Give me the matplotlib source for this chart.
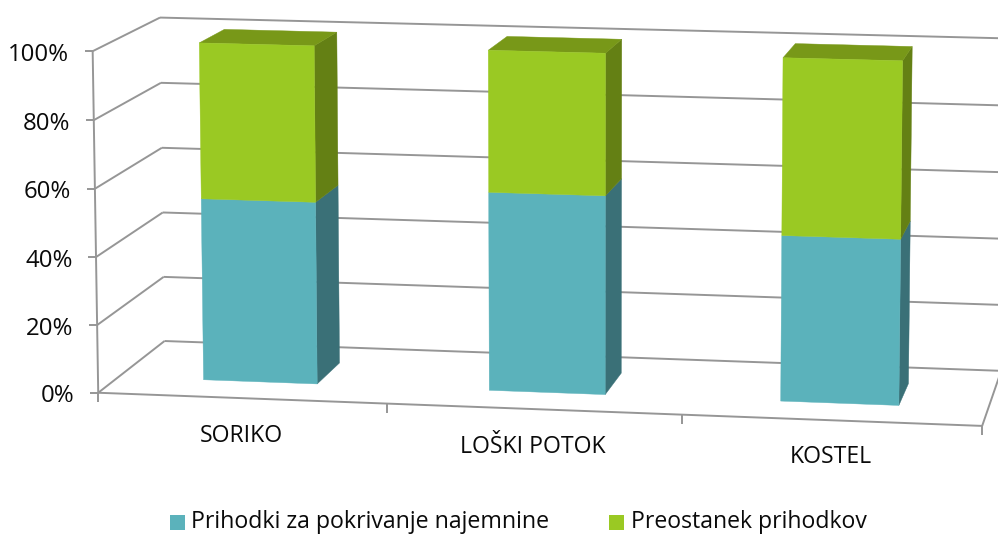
import numpy as np
import matplotlib
matplotlib.use("Agg")
import matplotlib.pyplot as plt
from matplotlib.patches import Polygon, Rectangle

# ---- data ----
categories = ["SORIKO", "LOŠKI POTOK", "KOSTEL"]
rent_share = [54, 58.5, 48.5]
rest_share = [46, 41.5, 51.5]
series_names = ["Prihodki za pokrivanje najemnine", "Preostanek prihodkov"]
y_ticks = [0, 20, 40, 60, 80, 100]

# ---- styles ----
FONT = "Open Sans"
GRID = "#969696"
TEXT = "#0A0A0A"
TEAL = ("#5BB2BB", "#3A7077", "#4A8F97")
GREEN = ("#9AC923", "#648014", "#789818")
BAR_HALF = 0.2
Z_FRONT, Z_BACK = 0.3, 0.7

# ---- camera calibration: (category pos, percent, depth) -> canvas pixel ----
calib = [
    (0, 0, 0, 99, 392), (0, 100, 0, 92, 52), (1, 0, 0, 387, 403.5),
    (2, 0, 0, 681, 415), (3, 0, 0, 981, 426), (0, 0, 1, 165, 341),
    (0, 100, 1, 160, 17), (3, 0, 1, 1002, 372.6), (3, 100, 1, 1002, 37.6),
    (.3, 100, .3, 199.3, 43.3), (.7, 100, .3, 314, 46), (.3, 0, .3, 203, 380),
    (.7, 0, .3, 317, 384), (.7, 100, .7, 336.7, 32.3), (.7, 0, .7, 339, 363),
    (1.3, 100, .3, 488.3, 50.3), (1.7, 100, .3, 605.7, 53.3), (1.3, 0, .3, 489, 390),
    (1.7, 0, .3, 605, 394), (1.7, 100, .7, 622.3, 39.3), (1.7, 0, .7, 621.7, 373.3),
    (2.3, 100, .3, 784, 57.7), (2.7, 100, .3, 904, 60.7), (2.3, 0, .3, 780.3, 401),
    (2.7, 0, .3, 899, 405), (2.7, 100, .7, 914, 46.3), (2.7, 0, .7, 909.7, 383),
]
A, b = [], []
for x, v, z, u, w in calib:
    A.append([x, v, z, 1, 0, 0, 0, 0, -u * x, -u * v, -u * z]); b.append(u)
    A.append([0, 0, 0, 0, x, v, z, 1, -w * x, -w * v, -w * z]); b.append(w)
P = np.append(np.linalg.lstsq(np.array(A, float), np.array(b, float), rcond=None)[0], 1).reshape(3, 4)


def proj(x, v, z):
    h = P @ np.array([x, v, z, 1.0])
    return h[0] / h[2], h[1] / h[2]


fig = plt.figure(figsize=(9.98, 5.34), dpi=100)
ax = fig.add_axes([0, 0, 1, 1])
ax.set_xlim(0, 998)
ax.set_ylim(534, 0)
ax.axis("off")


def seg(p, q, **kw):
    ax.plot([p[0], q[0]], [p[1], q[1]], color=GRID, lw=1.4, solid_capstyle="butt", zorder=1, **kw)


n = len(categories)
for t in y_ticks:
    seg(proj(0, t, 0), proj(0, t, 1))
    seg(proj(0, t, 1), proj(n, t, 1))
    fx, fy = proj(0, t, 0)
    seg((fx - 8, fy), (fx, fy))
    ax.text(fx - 23.5, fy + 3.5, f"{t}%", ha="right", va="center", fontsize=17.3, family=FONT, color=TEXT)
seg(proj(0, 0, 0), proj(0, 100, 0))
seg(proj(0, 0, 0), proj(n, 0, 0))
seg(proj(n, 0, 0), proj(n, 0, 1))
for i in range(n + 1):
    tx, ty = proj(i, 0, 0)
    seg((tx, ty), (tx, ty + 9))


def box(x0, x1, v0, v1, cols, top):
    front, side, lid = cols
    pts_side = [proj(x1, v0, Z_FRONT), proj(x1, v0, Z_BACK), proj(x1, v1, Z_BACK), proj(x1, v1, Z_FRONT)]
    ax.add_patch(Polygon(pts_side, fc=side, ec=side, lw=0.3, zorder=3))
    if top:
        pts_top = [proj(x0, v1, Z_FRONT), proj(x0, v1, Z_BACK), proj(x1, v1, Z_BACK), proj(x1, v1, Z_FRONT)]
        ax.add_patch(Polygon(pts_top, fc=lid, ec=lid, lw=0.3, zorder=3))
    pts_front = [proj(x0, v0, Z_FRONT), proj(x1, v0, Z_FRONT), proj(x1, v1, Z_FRONT), proj(x0, v1, Z_FRONT)]
    ax.add_patch(Polygon(pts_front, fc=front, ec=front, lw=0.3, zorder=4))


for i in range(n):
    x0, x1 = i + 0.5 - BAR_HALF, i + 0.5 + BAR_HALF
    a = rent_share[i]
    box(x0, x1, 0, a, TEAL, False)
    box(x0, x1, a, a + rest_share[i], GREEN, True)

label_pos = [(241, 435.5), (533, 447), (830.5, 457)]
for name, (lx, ly) in zip(categories, label_pos):
    ax.text(lx, ly, name, ha="center", va="center", fontsize=16.6, family=FONT, color=TEXT)

ax.add_patch(Rectangle((170, 515), 15, 15, fc=TEAL[0], ec="none"))
ax.add_patch(Rectangle((609, 515), 15, 15, fc=GREEN[0], ec="none"))
ax.text(191, 527.5, series_names[0], ha="left", va="baseline", fontsize=16.7, family=FONT, color=TEXT)
ax.text(631, 527.5, series_names[1], ha="left", va="baseline", fontsize=16.6, family=FONT, color=TEXT)

fig.savefig("out.png", dpi=100)
